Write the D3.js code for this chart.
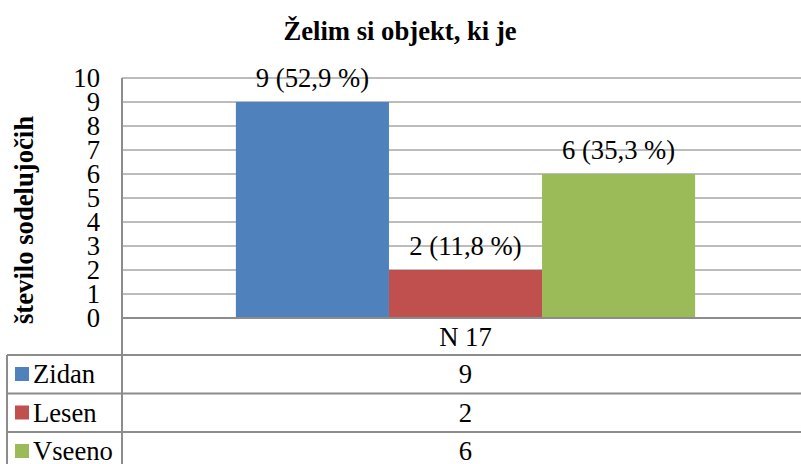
<!DOCTYPE html>
<html>
<head>
<meta charset="utf-8">
<script src="https://cdn.jsdelivr.net/npm/d3@7"></script>
</head>
<body style="margin:0; background:#fff">
<script>
// data
const categories = ["Zidan", "Lesen", "Vseeno"];
const values = [9, 2, 6];
const percents = ["52,9 %", "11,8 %", "35,3 %"];
const colors = ["#4F81BD", "#C0504D", "#9BBB59"];
const groupLabel = "N 17";
const yTicks = [0, 1, 2, 3, 4, 5, 6, 7, 8, 9, 10];

const serif = "'Liberation Serif'";
const fs = '26.67px';

let width = 801,
    height = 464;

let margin = { top: 78, left: 122, right: -8, bottom: 146 };

let svg = d3.select('body')
  .append('svg')
  .attr('width', width)
  .attr('height', height)
  .style('display', 'block');

let plotBottom = height - margin.bottom;

let yScale = d3.scaleLinear()
  .domain([0, 10])
  .range([plotBottom, margin.top]);

// outer band for the single category, inner band for the series
let x0 = d3.scaleBand()
  .domain([groupLabel])
  .range([margin.left, width - margin.right])
  .paddingInner(0)
  .paddingOuter(0.248);

let x1 = d3.scaleBand()
  .domain(categories)
  .range([x0(groupLabel), x0(groupLabel) + x0.bandwidth()])
  .padding(0);

// gridlines
svg.append('g')
  .selectAll('line')
  .data(yTicks.filter(d => d > 0))
  .enter()
  .append('line')
  .attr('x1', margin.left)
  .attr('x2', width)
  .attr('y1', d => yScale(d))
  .attr('y2', d => yScale(d))
  .attr('stroke', '#a6a6a6')
  .attr('stroke-width', 1.5);

// bars
svg.selectAll('.bar')
  .data(values)
  .enter()
  .append('rect')
  .attr('class', 'bar')
  .attr('x', (d, i) => x1(categories[i]))
  .attr('y', d => yScale(d))
  .attr('width', x1.bandwidth())
  .attr('height', d => plotBottom - yScale(d))
  .attr('fill', (d, i) => colors[i]);

// data labels
svg.selectAll('.lbl')
  .data(values)
  .enter()
  .append('text')
  .attr('class', 'lbl')
  .attr('x', (d, i) => x1(categories[i]) + x1.bandwidth() / 2)
  .attr('y', d => yScale(d) - 15)
  .attr('text-anchor', 'middle')
  .style('font-family', serif)
  .style('font-size', fs)
  .text((d, i) => `${d} (${percents[i]})`);

// y axis
let yAxis = svg.append('g')
  .attr('transform', `translate(${margin.left}, 0)`)
  .call(d3.axisLeft(yScale).tickValues(yTicks).tickSize(0).tickPadding(22));
yAxis.select('.domain').remove();
yAxis.selectAll('text')
  .style('font-family', serif)
  .style('font-size', fs)
  .attr('fill', '#000');

// table lines
let rowH = 38.5;
let rowTops = [plotBottom, plotBottom + 37];
for (let i = 1; i < 4; i++) rowTops.push(rowTops[1] + i * rowH);

let lineColor = '#8c8c8c';
// vertical axis line from top of plot to bottom of table
svg.append('line')
  .attr('x1', margin.left).attr('x2', margin.left)
  .attr('y1', margin.top).attr('y2', height)
  .attr('stroke', lineColor).attr('stroke-width', 2);

// left table border
svg.append('line')
  .attr('x1', 7).attr('x2', 7)
  .attr('y1', rowTops[1]).attr('y2', height)
  .attr('stroke', lineColor).attr('stroke-width', 2);

// horizontal rows
svg.append('g')
  .selectAll('line')
  .data(rowTops)
  .enter()
  .append('line')
  .attr('x1', (d, i) => i < 1 ? margin.left : 7)
  .attr('x2', width)
  .attr('y1', d => d)
  .attr('y2', d => d)
  .attr('stroke', lineColor)
  .attr('stroke-width', 2);

// category label row
svg.append('text')
  .attr('x', x0(groupLabel) + x0.bandwidth() / 2)
  .attr('y', rowTops[0] + 28)
  .attr('text-anchor', 'middle')
  .style('font-family', serif)
  .style('font-size', fs)
  .text(groupLabel);

// legend rows with values
categories.forEach((c, i) => {
  let top = rowTops[i + 1];
  svg.append('rect')
    .attr('x', 15)
    .attr('y', top + 12)
    .attr('width', 14)
    .attr('height', 14)
    .attr('fill', colors[i]);
  svg.append('text')
    .attr('x', 33)
    .attr('y', top + 28)
    .style('font-family', serif)
    .style('font-size', fs)
    .text(c);
  svg.append('text')
    .attr('x', x0(groupLabel) + x0.bandwidth() / 2)
    .attr('y', top + 28)
    .attr('text-anchor', 'middle')
    .style('font-family', serif)
    .style('font-size', fs)
    .text(values[i]);
});

// title
svg.append('text')
  .attr('x', 400)
  .attr('y', 40)
  .attr('text-anchor', 'middle')
  .style('font-family', serif)
  .style('font-size', fs)
  .style('font-weight', 'bold')
  .text('Želim si objekt, ki je');

// y axis title
svg.append('text')
  .attr('transform', 'translate(33, 220) rotate(-90)')
  .attr('text-anchor', 'middle')
  .style('font-family', serif)
  .style('font-size', fs)
  .style('font-weight', 'bold')
  .text('število sodelujočih');
</script>
</body>
</html>
